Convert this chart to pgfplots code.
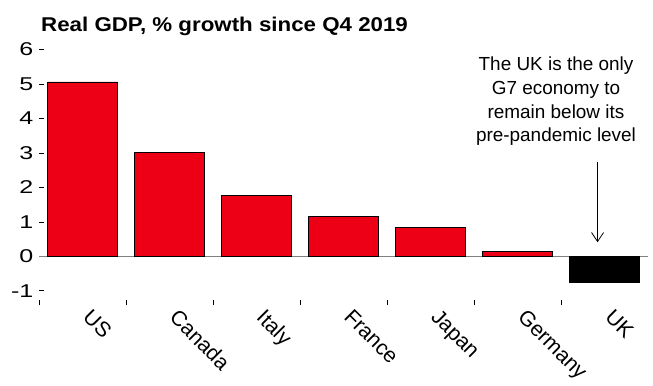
\documentclass[border=0pt]{standalone}
\usepackage{fontspec}
\setmainfont{Liberation Sans}
\newfontfamily\tickfont[FakeStretch=1.35]{Liberation Sans}
\newfontfamily\titlefont[FakeStretch=1.12]{Liberation Sans}
\usepackage{pgfplots}
\pgfplotsset{compat=1.18}
\usetikzlibrary{arrows.meta}
\definecolor{barred}{RGB}{237,0,22}
\begin{document}
\begin{tikzpicture}[x=1bp,y=1bp]
\useasboundingbox (0,0) rectangle (653,385);
\node[anchor=base west, inner sep=0, font=\titlefont\fontsize{20}{20}\selectfont\bfseries] at (41,353.3) {Real GDP, \% growth since Q4 2019};
\node[anchor=north, inner sep=0, align=center, font=\fontsize{19}{23.7}\selectfont] at (556,328) {The UK is the only\\G7 economy to\\remain below its\\pre-pandemic level};
\begin{axis}[
  at={(39bp,80bp)}, anchor=south west,
  scale only axis, width=609bp, height=262.4bp,
  xmin=-0.5, xmax=6.5, ymin=-1.41, ymax=6.2,
  axis line style={draw=none},
  tick align=inside,
  xtick={0,...,6},
  xticklabels={US,Canada,Italy,France,Japan,Germany,UK},
  major x tick style={draw=none},
  minor xtick={-0.5,0.5,...,5.5},
  xtick pos=left, ytick pos=left,
  ytick={-1,0,...,6}, yticklabels={-1,0,1,2,3,4,5,6},
  major tick length=5bp, minor tick length=5bp,
  tick style={black, line width=0.8bp},
  yticklabel style={font=\tickfont\fontsize{18.6}{18.6}\selectfont, inner sep=0, xshift=-5.5bp},
  xticklabel style={font=\fontsize{21.3}{21.3}\selectfont, rotate=-45, anchor=north west, inner sep=0, yshift=5bp, xshift=9bp},
  clip=false,
]
\addplot[gray, line width=1.2bp, forget plot] coordinates {(-0.5,0) (6.5,0)};
\addplot[ybar, bar width=0.8, bar shift=0, fill=barred, draw=black, line width=0.8bp] coordinates {(0,5.06) (1,3.01) (2,1.78) (3,1.15) (4,0.83) (5,0.14)};
\addplot[ybar, bar width=0.8, bar shift=0, fill=black, draw=black, line width=0.8bp] coordinates {(6,-0.76)};
\draw[-{Straight Barb[length=9bp,width=12bp]}, line width=0.8bp] (axis cs:5.92,2.74) -- (axis cs:5.92,0.41);
\end{axis}
\end{tikzpicture}
\end{document}
